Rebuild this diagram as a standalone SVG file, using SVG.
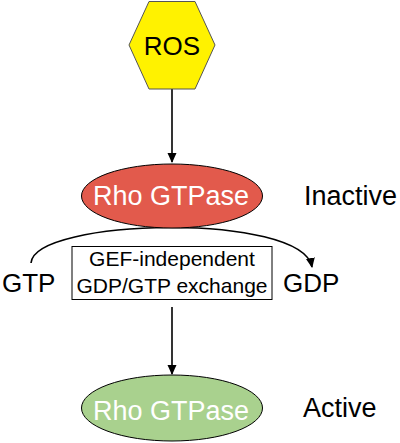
<svg xmlns="http://www.w3.org/2000/svg" width="400" height="443" viewBox="0 0 400 443">
<style>
text{font-family:"Liberation Sans",Arial,sans-serif;fill:#000}
.w{fill:#fff}
.edge{stroke:#000;stroke-width:1.6;fill:none}
</style>
<defs>
<marker id="ah" markerWidth="10" markerHeight="10" refX="9" refY="5" orient="auto" markerUnits="userSpaceOnUse">
<path d="M0,0.5 L10,5 L0,9.5 Z" fill="#000"/>
</marker>
</defs>
<rect width="400" height="443" fill="#fff"/>
<g id="connectors">
<line class="edge" x1="172" y1="89" x2="172" y2="162" marker-end="url(#ah)"/>
<line class="edge" x1="172" y1="307" x2="172" y2="374" marker-end="url(#ah)"/>
<path class="edge" d="M31,263 C34,218 302,212 312,267" marker-end="url(#ah)"/>
</g>
<g id="ros">
<polygon points="149,1.5 195,1.5 215,45 195,89 149,89 129,45" fill="#fff200" stroke="#555" stroke-width="1"/>
<text x="172" y="55" font-size="26" text-anchor="middle">ROS</text>
</g>
<g id="rho-inactive">
<ellipse cx="172" cy="196" rx="90.5" ry="32" fill="#e25a4c" stroke="#000" stroke-width="1"/>
<text class="w" x="171" y="205" font-size="27" text-anchor="middle">Rho GTPase</text>
</g>
<text x="304" y="205" font-size="27">Inactive</text>
<g id="exchange">
<rect x="72" y="246.5" width="200" height="53" fill="#fff" stroke="#000" stroke-width="1"/>
<text x="172" y="266" font-size="21" text-anchor="middle">GEF-independent</text>
<text x="172" y="293" font-size="21" text-anchor="middle">GDP/GTP exchange</text>
</g>
<g id="gtp"><text x="2" y="292" font-size="26">GTP</text></g>
<g id="gdp"><text x="283" y="292" font-size="26">GDP</text></g>
<g id="rho-active">
<ellipse cx="172" cy="408" rx="90.5" ry="33" fill="#a9d18e" stroke="#000" stroke-width="1"/>
<text class="w" x="171" y="420" font-size="27" text-anchor="middle">Rho GTPase</text>
</g>
<text x="303" y="417" font-size="27">Active</text>
</svg>
